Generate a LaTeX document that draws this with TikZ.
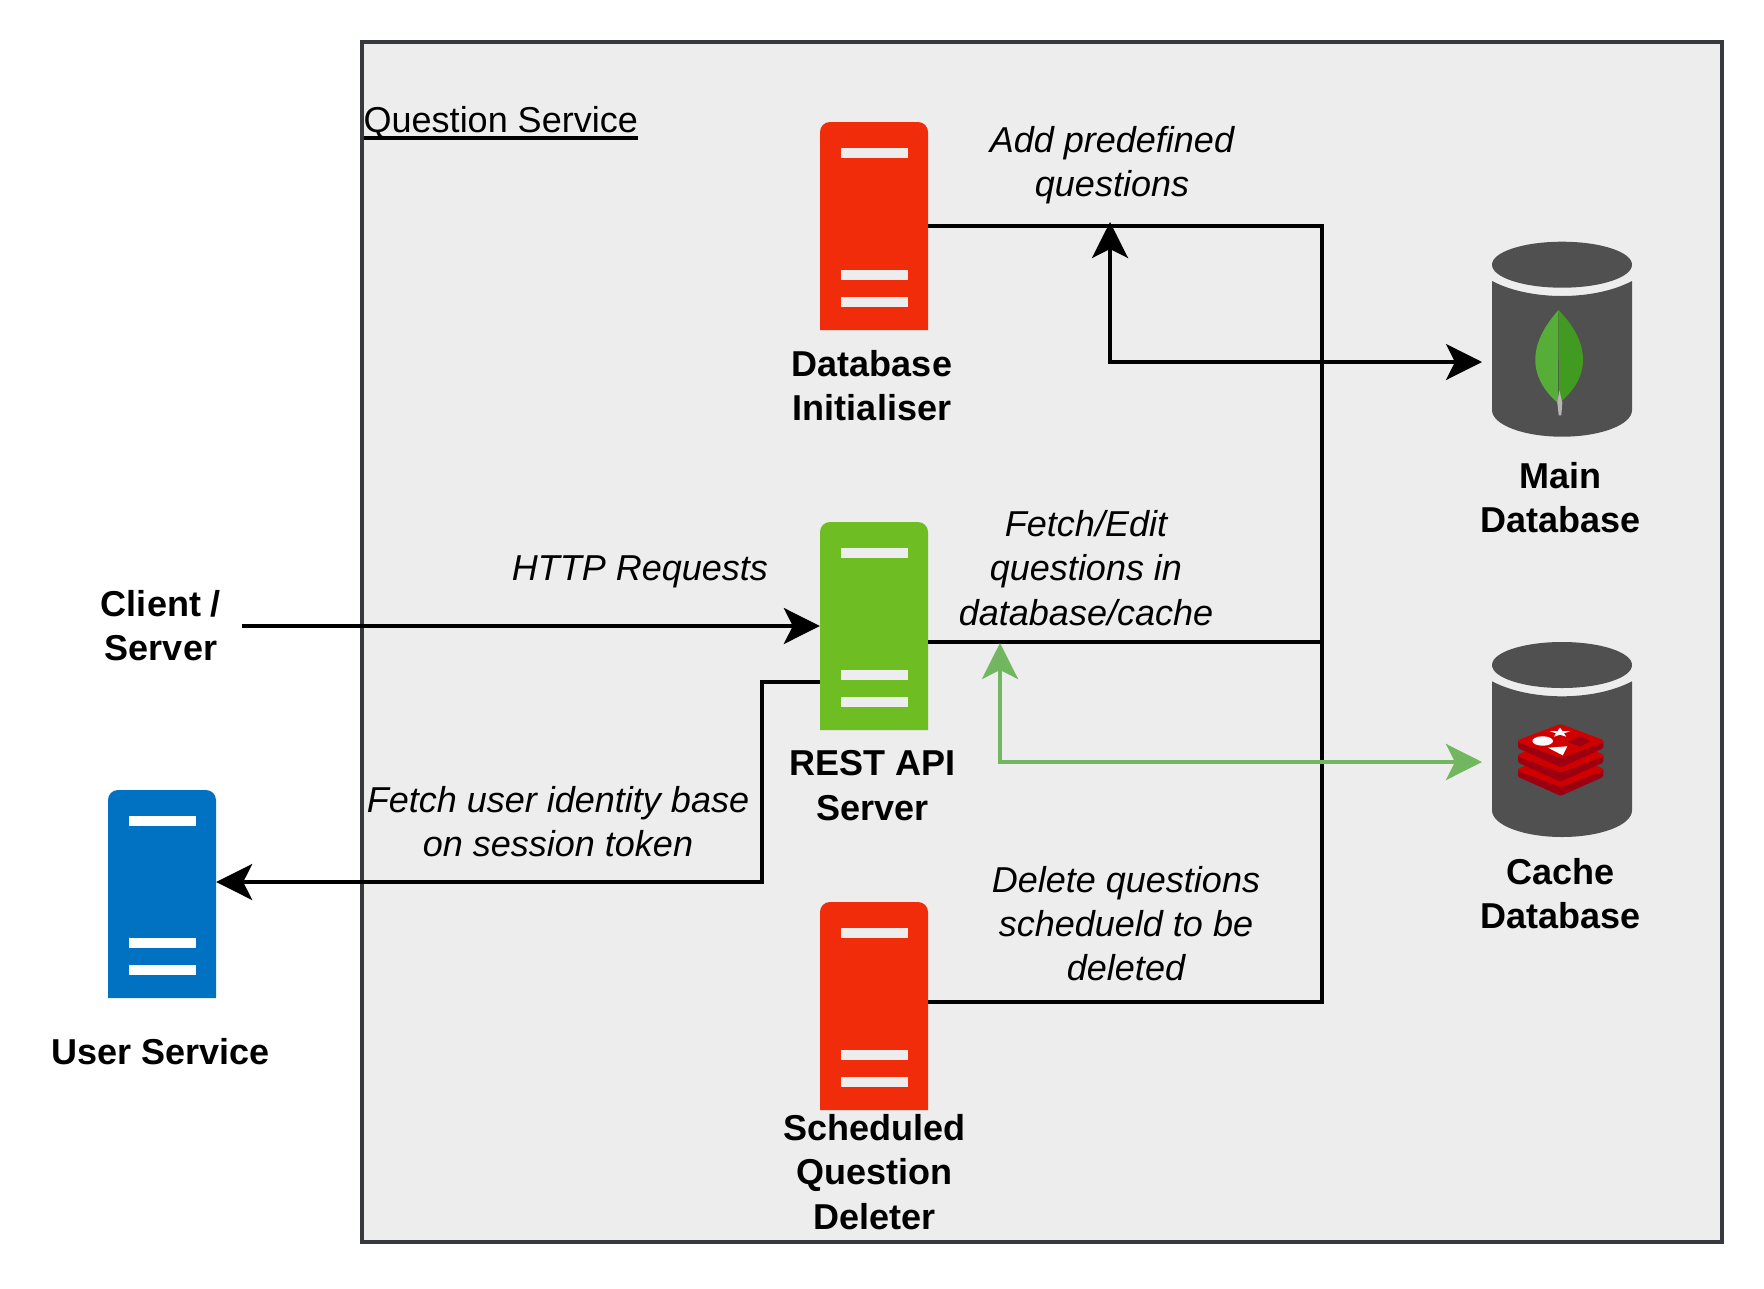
\documentclass[tikz,border=0pt]{standalone}
\usepackage{fontspec}
\setmainfont{Liberation Sans}
\usetikzlibrary{arrows.meta}
\definecolor{serverred}{HTML}{F02C0B}
\definecolor{servergreen}{HTML}{6EBD23}
\definecolor{serverblue}{HTML}{0072C1}
\definecolor{dbgrey}{HTML}{505050}
\definecolor{framegrey}{HTML}{36393D}
\definecolor{framefill}{HTML}{EDEDED}
\definecolor{cachegreen}{HTML}{73B660}
\definecolor{leaflight}{HTML}{56AE38}
\definecolor{leafdark}{HTML}{429B21}
\definecolor{stemgrey}{HTML}{B8B4B4}
\definecolor{stackred}{HTML}{D00000}
\definecolor{stackdark}{HTML}{9C0010}
\newcommand{\titlerule}[1]{\setbox0=\hbox{#1}\rlap{\vrule height -3.5pt depth 7.5pt width \wd0}\box0}
\begin{document}
\begin{tikzpicture}[
    x=1pt, y=-1pt,
    >={Stealth[length=36pt, width=36pt, inset=9pt]},
    serviceframe/.style={rectangle, draw=framegrey, fill=framefill, line width=4.2pt, inner sep=0pt, minimum width=1360pt, minimum height=1200pt},
    frametitle/.style={font=\fontsize{36}{44.2}\selectfont, inner sep=0pt},
    partname/.style={font=\fontsize{36}{44.2}\selectfont\bfseries, align=center, inner sep=0pt},
    flownote/.style={font=\fontsize{36}{44.2}\selectfont\itshape, align=center, inner sep=0pt},
    wire/.style={draw=black, line width=3.6pt},
    cachewire/.style={draw=cachegreen, line width=4pt},
    pics/server/.style 2 args={code={
        \fill[#1] (-54,104) [rounded corners=10pt] -- (-54,-104) -- (54,-104) [sharp corners] -- (54,104) -- cycle;
        \fill[#2] (-33.5,-78) rectangle (33.5,-68.5);
        \fill[#2] (-33.5,44) rectangle (33.5,53.5);
        \fill[#2] (-33.5,71) rectangle (33.5,80.5);
        \node[inner sep=0pt, minimum width=108pt, minimum height=208pt] (-body) {};
    }},
    pics/cylinder/.style={code={
        \fill[dbgrey] (0,-74.3) ellipse[x radius=70, y radius=23];
        \fill[dbgrey] (-70,-58) .. controls (-32,-38) and (32,-38) .. (70,-58) -- (70,71) .. controls (70,86) and (38,97.7) .. (0,97.7) .. controls (-38,97.7) and (-70,86) .. (-70,71) -- cycle;
        \node[inner sep=0pt, minimum width=140pt, minimum height=195pt] (-body) {};
    }},
    pics/leaf/.style={code={
        \fill[leaflight] (-3.5,-29) .. controls (-14,-17) and (-26.7,0) .. (-26.7,21) .. controls (-26.7,39) and (-16,54) .. (-4,64) -- cycle;
        \fill[leafdark] (-3.5,-29) .. controls (8,-17) and (21,0) .. (21,21) .. controls (21,39) and (10,54) .. (-3,64) -- cycle;
        \fill[stemgrey] (-2.7,51) -- (0.3,63.7) -- (-0.7,76.3) -- (-3.3,76.3) -- (-4.7,63.7) -- cycle;
    }},
    pics/stack/.style={code={
        \foreach \d in {28.6,14.3,0} {
            \fill[stackdark, rounded corners=1.5pt] (-44,0.7+\d) -- (-1.3,17.4+\d) -- (41.3,0.7+\d) -- (41.3,9+\d) -- (-1.3,28+\d) -- (-44,9+\d) -- cycle;
            \fill[stackred, rounded corners=1.5pt] (-1.3,-15.3+\d) -- (41.3,0.7+\d) -- (41.3,3+\d) -- (-1.3,19+\d) -- (-44,3+\d) -- (-44,0.7+\d) -- cycle;
        }
        \fill[stackdark] (5.7,2.4) -- (18.7,-3.3) -- (28.7,1.7) -- (18,7.4) -- cycle;
        \fill[white] (-19.3,1.7) ellipse[x radius=10.3, y radius=4.7];
        \fill[white] (-14,8.4) -- (5.3,7) -- (0.7,16) -- cycle;
        \fill[white, shift={(-2,-6.6)}] (0,-5) -- (2.5,-1.6) -- (10,-1.5) -- (4,0.6) -- (6.2,4) -- (0,2) -- (-6.2,4) -- (-4,0.6) -- (-10,-1.5) -- (-2.5,-1.6) -- cycle;
    }}
]
\useasboundingbox (0,0) rectangle (1764,1288);
\node[serviceframe] (questionservice) at (1042,642) {};
\node[frametitle, anchor=base west] (servicetitle) at (363.5,132.5) {\titlerule{Question Service}};
\pic (dbinit) at (874,226) {server={serverred}{framefill}};
\pic (restapi) at (874,626) {server={servergreen}{framefill}};
\pic (deleter) at (874,1006) {server={serverred}{framefill}};
\pic (userservice) at (162,894) {server={serverblue}{white}};
\pic (maindb) at (1562,339) {cylinder};
\pic (cachedb) at (1562,739.3) {cylinder};
\pic at (1562,339) {leaf};
\pic at (1562,739.3) {stack};
\node[partname] (dbinitname) at (872,386) {Database\\Initialiser};
\node[partname] (restapiname) at (872.5,785.5) {REST API\\Server};
\node[partname] (deletername) at (874.5,1172) {Scheduled\\Question\\Deleter};
\node[partname] (userservicename) at (161,1052) {User Service};
\node[partname] (maindbname) at (1560.5,498) {Main\\Database};
\node[partname] (cachedbname) at (1560.5,894) {Cache\\Database};
\node[partname] (client) at (161,626) {Client /\\Server};
\node[flownote] (addnote) at (1112,165.5) {Add predefined\\questions};
\node[flownote] (editnote) at (1086,568) {Fetch/Edit\\questions in\\database/cache};
\node[flownote] (httpnote) at (640,571.5) {HTTP Requests};
\node[flownote] (usernote) at (558,822) {Fetch user identity base\\on session token};
\node[flownote] (deletenote) at (1126,923.5) {Delete questions\\schedueld to be\\deleted};
\coordinate (trunktop) at (1322,226);
\coordinate (trunkbottom) at (1322,1002);
\coordinate (restjoin) at (1322,642);
\coordinate (addtip) at (1110,222);
\coordinate (maintip) at (1482,362);
\coordinate (edittip) at (1000,643);
\coordinate (cachetip) at (1482,762);
\coordinate (clientout) at (242,626);
\coordinate (userbend) at (762,882);
\draw[wire] (dbinit-body.east) -- (trunktop) -- (trunkbottom) -- ([yshift=4pt]deleter-body.east);
\draw[wire] ([yshift=-16pt]restapi-body.east) -- (restjoin);
\draw[wire, <->] (addtip) |- (maintip);
\draw[cachewire, <->] (edittip) |- (cachetip);
\draw[wire, ->] (clientout) -- (restapi-body.west);
\draw[wire, ->] ([yshift=-56pt]restapi-body.west) -| (userbend) -- ([yshift=12pt]userservice-body.east);
\end{tikzpicture}
\end{document}
